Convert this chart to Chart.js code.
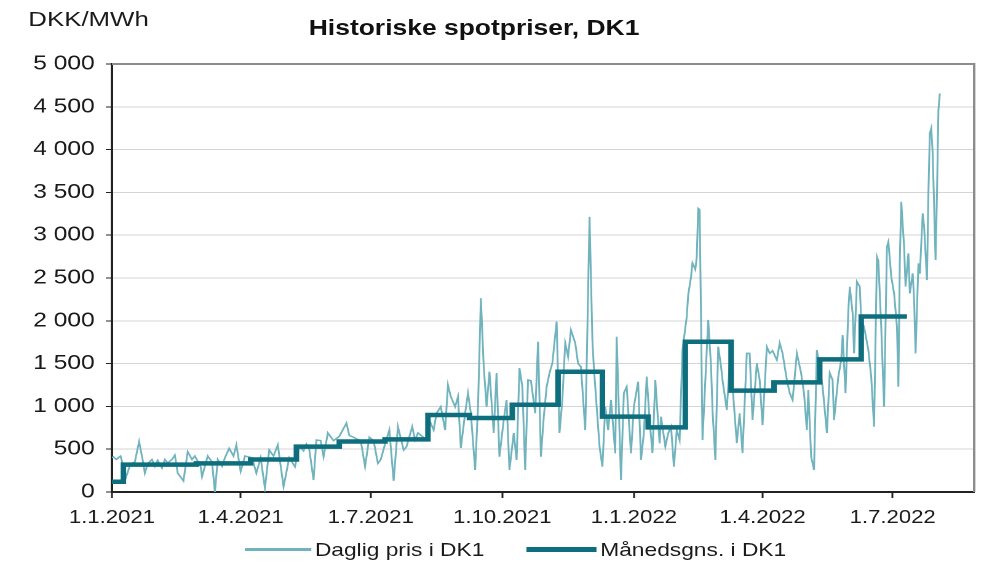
<!DOCTYPE html>
<html lang="da">
<head>
<meta charset="utf-8">
<title>Historiske spotpriser, DK1</title>
<script src="https://cdn.jsdelivr.net/npm/chart.js@4.4.1/dist/chart.umd.min.js"></script>
<style>
  html, body { margin: 0; padding: 0; background: #fff; overflow: hidden; }
  body { width: 984px; height: 566px; position: relative; font-family: "Liberation Sans", Arial, sans-serif; }
  /* originalen er strakt vandret, så hele tegningen strækkes med samme faktor */
  #wrap { position: absolute; left: 0; top: 0; width: 800px; height: 566px; transform: scaleX(1.23); transform-origin: 0 0; }
  #graf { position: absolute; left: 0; top: 0; }
  .tekst { position: absolute; white-space: nowrap; line-height: 1; color: #1a1a1a; }
  #enhed { left: 23px; top: 8px; font-size: 21px; }
  #titel { left: 251px; top: 18px; font-size: 21.5px; font-weight: bold; color: #111; }
  .streg { position: absolute; }
  #streg1 { left: 199px; top: 548px; width: 54px; height: 2.5px; background: #70b3bd; }
  #streg2 { left: 428px; top: 547px; width: 57px; height: 5px; background: #0e6e7d; }
  #tekst1 { left: 256px; top: 541px; font-size: 18.5px; }
  #tekst2 { left: 488px; top: 541px; font-size: 18.5px; }
</style>
</head>
<body>
<div id="wrap">
  <canvas id="graf" width="800" height="566"></canvas>
  <div class="tekst" id="enhed">DKK/MWh</div>
  <div class="tekst" id="titel">Historiske spotpriser, DK1</div>
  <div class="streg" id="streg1"></div>
  <div class="tekst" id="tekst1">Daglig pris i DK1</div>
  <div class="streg" id="streg2"></div>
  <div class="tekst" id="tekst2">Månedsgns. i DK1</div>
</div>
<script>
// Dage regnes fra 1.1.2021 (dag 0)
const kvartalDage = [0, 90, 181, 273, 365, 455, 546];
const kvartalEtiketter = ["1.1.2021", "1.4.2021", "1.7.2021", "1.10.2021", "1.1.2022", "1.4.2022", "1.7.2022"];

// Daglig pris
const dagligDag = [
  0, 1, 3, 6, 8, 10, 13, 16, 19, 22, 23, 25, 28, 30, 32, 35, 37, 39, 42, 44,
  46, 50, 53, 56, 58, 62, 63, 67, 70, 72, 74, 77, 79, 82, 85, 87, 90, 93, 98, 101,
  104, 107, 110, 113, 116, 120, 124, 128, 131, 134, 136, 138, 141, 143, 146, 148, 151, 155, 159, 164,
  166, 169, 171, 174, 177, 180, 183, 186, 188, 191, 194, 197, 200, 204, 206, 210, 212, 214, 217, 220,
  222, 225, 227, 230, 233, 235, 237, 240, 242, 244, 247, 249, 251, 254, 256, 258, 260, 262, 264, 267,
  269, 271, 274, 276, 278, 281, 283, 285, 287, 289, 291, 293, 296, 298, 300, 302, 304, 306, 308, 311,
  313, 315, 317, 319, 321, 324, 326, 328, 331, 332, 334, 336, 337, 339, 341, 343, 345, 347, 349, 352,
  353, 356, 358, 360, 363, 365, 368, 370, 372, 374, 376, 378, 380, 383, 384, 387, 389, 391, 393, 395,
  397, 399, 402, 403, 405, 406, 408, 409, 410, 411, 412, 413, 415, 417, 419, 420, 422, 424, 426, 427,
  430, 432, 434, 437, 439, 441, 444, 446, 448, 451, 453, 455, 458, 460, 462, 465, 467, 469, 472, 474,
  476, 479, 482, 484, 486, 487, 489, 491, 493, 495, 497, 500, 502, 504, 505, 508, 510, 511, 513, 515,
  516, 518, 519, 521, 523, 524, 526, 529, 531, 533, 535, 536, 538, 540, 542, 543, 545, 547, 549, 550,
  551, 552, 554, 555, 557, 558, 560, 561, 562, 564, 565, 567, 568, 570, 571, 572, 573, 574, 576, 577,
  578, 579
];
const dagligPris = [
  400, 410, 380, 420, 300, 180, 330, 350, 588, 330, 220, 330, 380, 300, 370, 280, 380, 340, 380, 430,
  220, 130, 470, 380, 420, 300, 180, 420, 350, 0, 380, 300, 400, 510, 420, 550, 240, 420, 400, 220,
  400, 45, 490, 420, 550, 62, 400, 296, 530, 480, 560, 500, 140, 607, 600, 412, 690, 600, 650, 805,
  660, 640, 620, 600, 296, 640, 600, 335, 380, 560, 724, 130, 763, 490, 530, 763, 607, 690, 650, 607,
  840, 724, 920, 996, 724, 1250, 1113, 996, 1113, 514, 920, 1156, 920, 257, 996, 2265, 1463, 996, 1405, 690,
  1390, 412, 840, 1075, 257, 690, 374, 1448, 1230, 257, 1308, 1300, 920, 1755, 412, 880, 1230, 1390, 1505, 1990,
  690, 1075, 1740, 1580, 1892, 1740, 1500, 1463, 724, 1463, 3216, 1775, 1463, 996, 530, 296, 996, 724, 1075, 452,
  1814, 140, 1156, 1230, 452, 996, 1288, 374, 690, 1347, 840, 455, 1308, 568, 880, 530, 685, 763, 296, 724,
  607, 1658, 2048, 2300, 2515, 2675, 2600, 2748, 3313, 3300, 2010, 607, 1308, 2010, 1463, 958, 374, 1697, 1463, 1308,
  958, 1503, 1230, 572, 919, 455, 1620, 1620, 841, 1503, 1308, 782, 1697, 1620, 1650, 1542, 1740, 1620, 1308, 1156,
  1075, 1620, 1387, 1156, 724, 1191, 412, 257, 1658, 1460, 1230, 690, 1390, 1308, 840, 1347, 1542, 1833, 1156, 2125,
  2398, 2087, 1620, 2456, 2398, 2010, 1930, 1658, 1347, 763, 2748, 2700, 1930, 996, 2865, 2923, 2515, 2320, 1930, 1230,
  2710, 3390, 2865, 2400, 2788, 2320, 2554, 2243, 1620, 2671, 2550, 3255, 3100, 2476, 3490, 4190, 4250, 3955, 2710, 3490,
  4460, 4656
];

// Månedsgennemsnit som trin (dag hvor trinnet starter)
const trinDage = [0, 8, 59, 97, 129, 159, 191, 221, 250, 280, 312, 343, 375, 401, 433, 463, 495, 524, 556];
const trinPris = [120, 320, 335, 380, 530, 590, 615, 900, 865, 1020, 1405, 880, 755, 1755, 1185, 1280, 1550, 2050, 2050];

const yTicks = { min: 0, max: 5000, step: 500 };

function tusind(v) {
  return String(v).replace(/\B(?=(\d{3})+(?!\d))/g, " ");
}

// grå ramme foroven og til højre
const ramme = {
  id: "ramme",
  afterDraw(chart) {
    const { ctx, chartArea: a } = chart;
    ctx.save();
    ctx.strokeStyle = "#8c8c8c";
    ctx.lineWidth = 2;
    ctx.beginPath();
    ctx.moveTo(a.left, a.top);
    ctx.lineTo(a.right, a.top);
    ctx.lineTo(a.right, a.bottom);
    ctx.stroke();
    ctx.restore();
  }
};

const skrift = '"Liberation Sans", Arial, sans-serif';

new Chart(document.getElementById("graf"), {
  type: "line",
  data: {
    datasets: [
      {
        label: "Daglig pris i DK1",
        data: dagligDag.map((d, i) => ({ x: d, y: dagligPris[i] })),
        borderColor: "#70b3bd",
        borderWidth: 1.5,
        pointRadius: 0,
        tension: 0,
        order: 1
      },
      {
        label: "Månedsgns. i DK1",
        data: trinDage.map((d, i) => ({ x: d, y: trinPris[i] })),
        borderColor: "#0e6e7d",
        borderWidth: 4.5,
        pointRadius: 0,
        stepped: "before",
        order: 0
      }
    ]
  },
  options: {
    responsive: false,
    animation: false,
    devicePixelRatio: 2,
    layout: { padding: { top: 64, right: 8, bottom: 34, left: 0 } },
    plugins: {
      legend: { display: false },
      title: { display: false },
      tooltip: { enabled: false }
    },
    scales: {
      x: {
        type: "linear",
        min: 0,
        max: 603,
        afterBuildTicks: (scale) => {
          scale.ticks = kvartalDage.map((v) => ({ value: v }));
        },
        afterFit: (scale) => { scale.height = 40; },
        ticks: {
          autoSkip: false,
          maxRotation: 0,
          padding: 9,
          color: "#1a1a1a",
          font: { family: skrift, size: 18 },
          callback: (v, i) => kvartalEtiketter[i]
        },
        grid: { drawOnChartArea: false, tickLength: 6, tickColor: "#222", tickWidth: 1.5 },
        border: { color: "#222", width: 2 }
      },
      y: {
        min: yTicks.min,
        max: yTicks.max,
        afterFit: (scale) => { scale.width = 91; },
        ticks: {
          stepSize: yTicks.step,
          padding: 9,
          color: "#1a1a1a",
          font: { family: skrift, size: 20 },
          callback: (v) => tusind(v)
        },
        grid: { color: "#d4d4d4", lineWidth: 1, tickLength: 5, tickColor: "#222" },
        border: { color: "#222", width: 2 }
      }
    }
  },
  plugins: [ramme]
});
</script>
</body>
</html>
